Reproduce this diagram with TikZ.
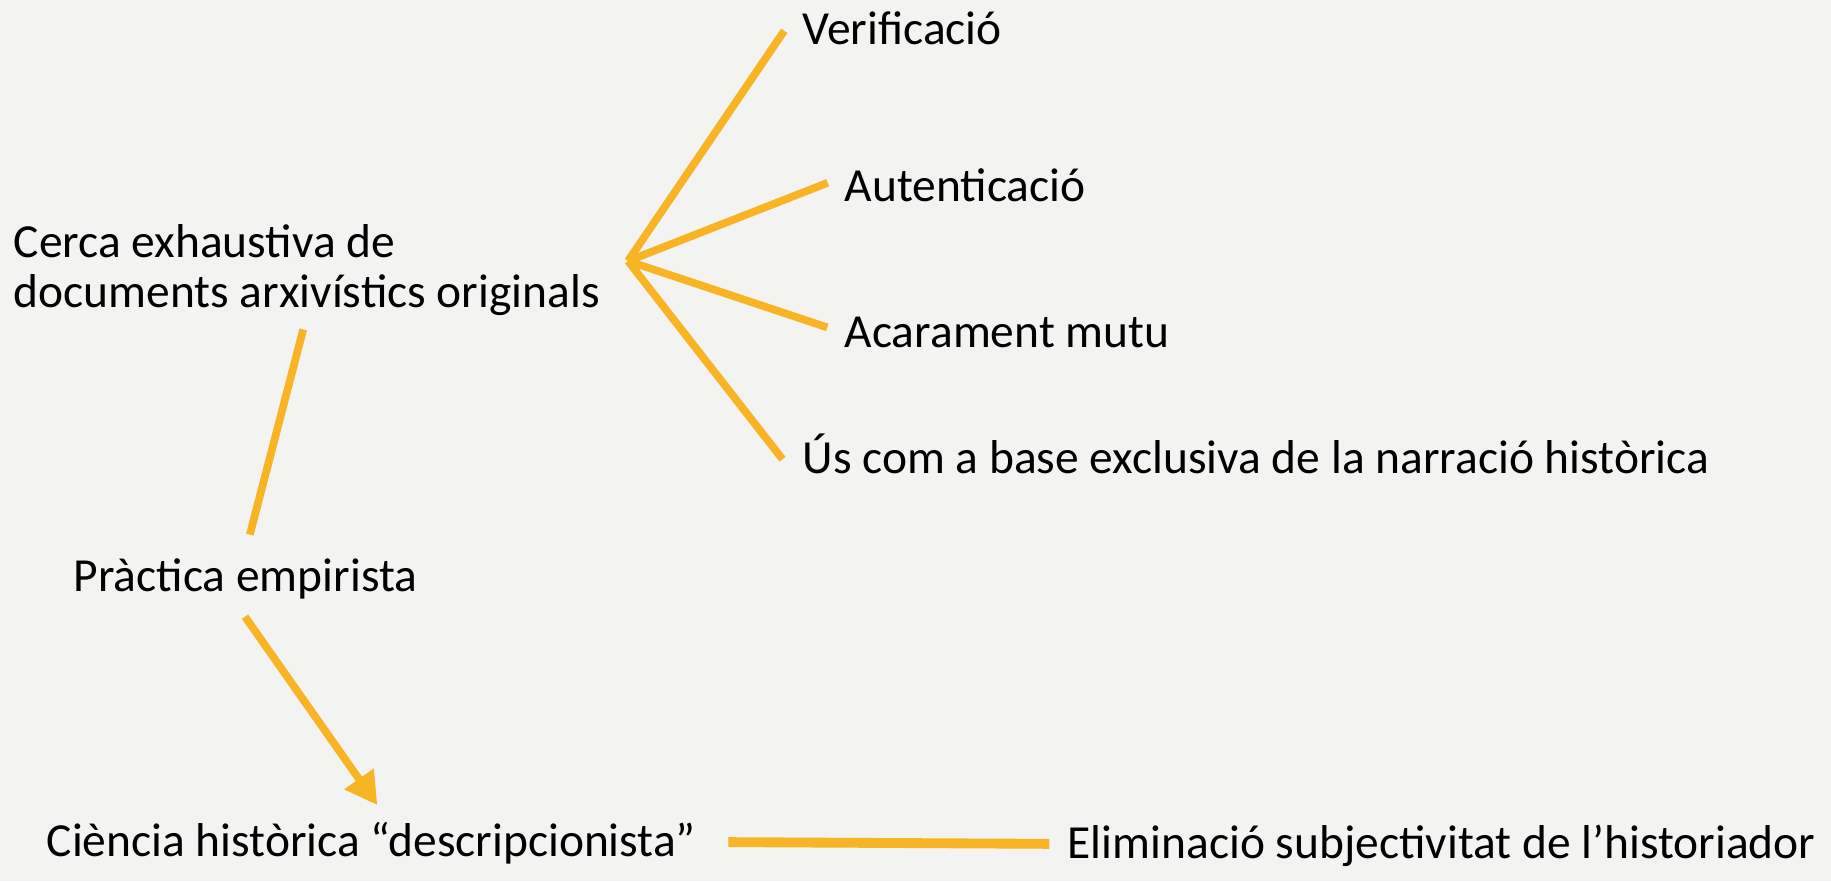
\documentclass[tikz,border=0pt]{standalone}
\usepackage{fontspec}
\setmainfont{Carlito}
\usetikzlibrary{arrows.meta}
\definecolor{bgcol}{HTML}{F3F3F1}
\definecolor{linecol}{HTML}{F7B526}

\begin{document}
\begin{tikzpicture}[x=0.01cm,y=-0.01cm,>={Triangle[length=3.2mm,width=3.4mm]},
  txt/.style={inner sep=0pt,anchor=base west,font=\fontsize{13.5}{14}\selectfont},
  lbl/.style={txt,text height=11pt,text depth=3pt},
  link/.style={color=linecol,line width=2.2pt}]

  \fill[bgcol] (0,0) rectangle (1831,881);
  \useasboundingbox (0,0) rectangle (1831,881);

  \node[lbl] (verif) at (802,44) {Verificació};
  \node[lbl] (auth)  at (844,201) {Autenticació};
  \node[txt, align=left] (cerca) at (13,307) {Cerca exhaustiva de\\documents arxivístics originals};
  \node[lbl] (acar)  at (844,347) {Acarament mutu};
  \node[lbl] (us)    at (802,473) {Ús com a base exclusiva de la narració històrica};
  \node[lbl] (prac)  at (73,591) {Pràctica empirista};
  \node[lbl] (cien)  at (46,856) {Ciència històrica “descripcionista”};
  \node[lbl] (elim)  at (1067,858) {Eliminació subjectivitat de l’historiador};

  \coordinate (hub) at (628,261);

  \path[link]
    (hub) edge[shorten >=9pt] (verif.north west)
    (hub) edge[shorten >=5pt] ([yshift=3pt]auth.west)
    (hub) edge[shorten >=5pt] (acar.west)
    (hub) edge[shorten >=9pt] (us.south west)
    (cerca.south) edge[shorten <=4pt, shorten >=5pt] (prac.north)
    ([xshift=-3pt]prac.south) edge[->, shorten <=5pt, shorten >=4pt] ([xshift=4pt]cien.north)
  ;
  \draw[link, line width=2.8pt, shorten <=9pt, shorten >=5pt] (cien.east) -- (elim.west);
\end{tikzpicture}
\end{document}
